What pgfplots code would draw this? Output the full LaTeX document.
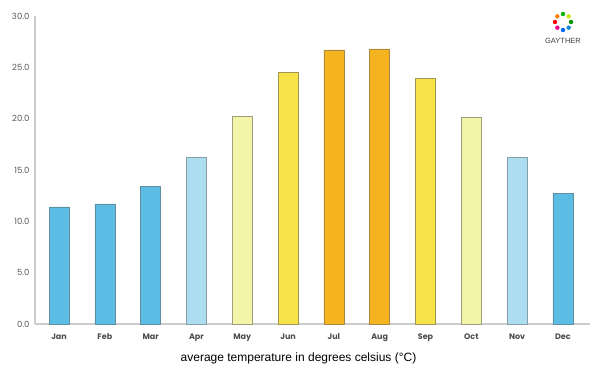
\documentclass[border=0pt]{standalone}
\usepackage{pgfplots}
\pgfplotsset{compat=1.18}
\usepackage{fontspec}
\setmainfont{Liberation Sans}
\newfontfamily\tickfont{Poppins}
\definecolor{cblue}{HTML}{5BBDE4}
\definecolor{clblue}{HTML}{ADDDF0}
\definecolor{cpale}{HTML}{F4F4A8}
\definecolor{cyel}{HTML}{F8E24A}
\definecolor{corange}{HTML}{F5B41F}
\definecolor{axgray}{HTML}{CCCCCC}
\begin{document}
\begin{tikzpicture}[x=1pt,y=1pt]
\path[use as bounding box] (0,0) rectangle (600,375);
\begin{axis}[
  at={(35pt,51pt)}, anchor=south west,
  scale only axis, width=555pt, height=308pt,
  xmin=-0.524, xmax=11.59, ymin=0, ymax=30,
  ybar, bar width=20pt, bar shift=0pt,
  axis x line*=bottom, axis y line*=left,
  axis line style={axgray, line width=1.2pt, -},
  xtick={0,...,11},
  xticklabels={Jan,Feb,Mar,Apr,May,Jun,Jul,Aug,Sep,Oct,Nov,Dec},
  ytick={0,5,...,30},
  major tick length=0pt,
  /pgf/number format/fixed, /pgf/number format/fixed zerofill, /pgf/number format/precision=1, /pgf/number format/assume math mode=true,
  yticklabel style={font=\tickfont\fontsize{8.5}{10}\selectfont, text=black!65, xshift=-2pt},
  xticklabel style={font=\tickfont\fontsize{8}{10}\selectfont\bfseries, text=black!70, yshift=-6pt},
  xlabel={average temperature in degrees celsius (°C)},
  xlabel style={font=\fontsize{12}{14}\selectfont, yshift=-5pt, xshift=-14pt},
  clip=false,
]
\addplot[fill=cblue, draw=cblue!60!black!80, line width=0.5pt] coordinates {(0,11.4) (1,11.7) (2,13.4) (11,12.7)};
\addplot[fill=clblue, draw=clblue!60!black!80, line width=0.5pt] coordinates {(3,16.2) (10,16.2)};
\addplot[fill=cpale, draw=cpale!55!black!80, line width=0.5pt] coordinates {(4,20.2) (9,20.1)};
\addplot[fill=cyel, draw=cyel!55!black!80, line width=0.5pt] coordinates {(5,24.5) (8,23.9)};
\addplot[fill=corange, draw=corange!60!black!80, line width=0.5pt] coordinates {(6,26.7) (7,26.8)};
\end{axis}
% logo
\foreach \a/\c in {90/green!70!black, 45/yellow!80!green, 0/green!60!black, -45/cyan!70!blue, -90/blue!60!cyan, -135/magenta, 180/red, 135/orange}{
  \fill[\c] (563,353) ++(\a:8) circle (2.2);
}
\node[font=\fontsize{7.5}{8}\selectfont, text=black!75] at (563,334) {GAYTHER};
\end{tikzpicture}
\end{document}
